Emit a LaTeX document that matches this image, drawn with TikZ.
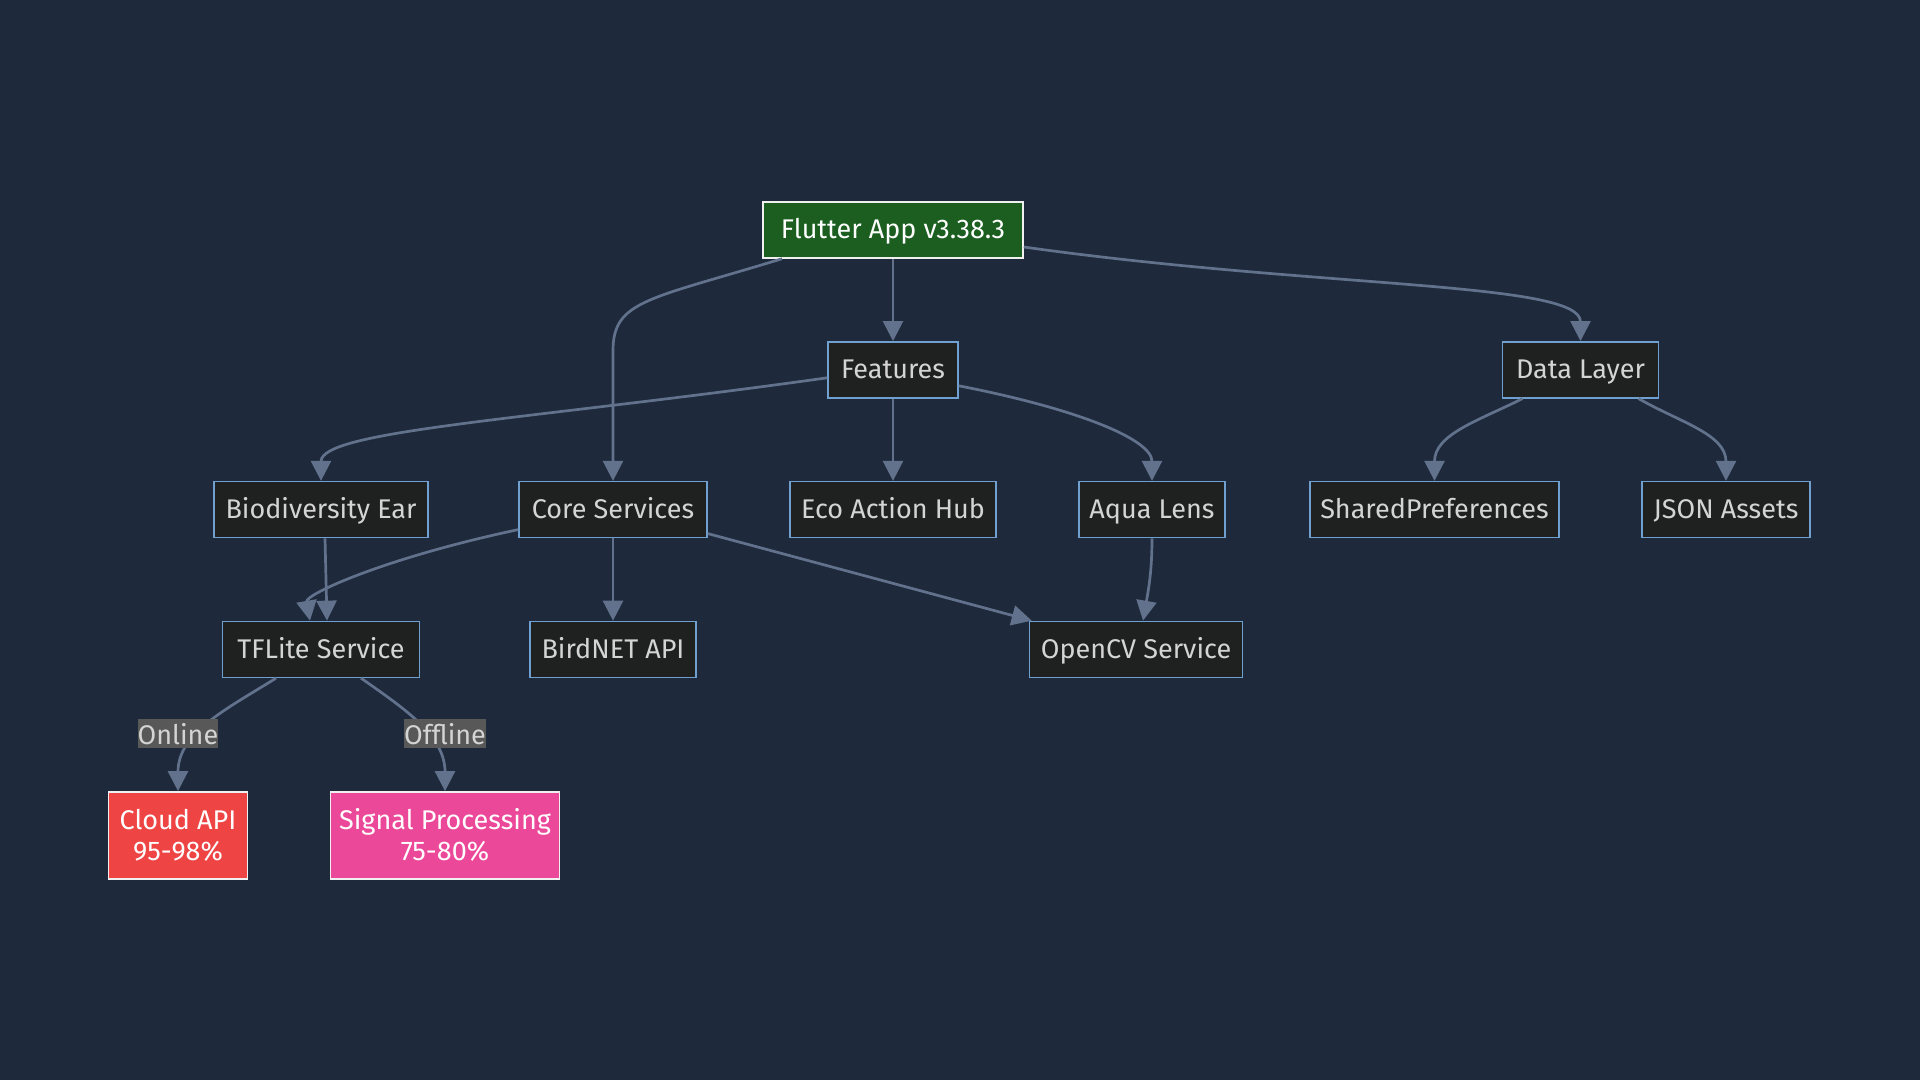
\documentclass[tikz,border=0pt]{standalone}
\usepackage{fontspec}
\setmainfont{Fira Sans}
\usetikzlibrary{arrows.meta,positioning}
\definecolor{bgclr}{RGB}{30,41,59}
\definecolor{nodefill}{RGB}{31,32,32}
\definecolor{nodeline}{RGB}{112,160,208}
\definecolor{nodetext}{RGB}{212,212,212}
\definecolor{edgeclr}{RGB}{98,114,140}
\definecolor{lblfill}{RGB}{88,88,88}
\definecolor{appgreen}{RGB}{27,94,32}
\definecolor{cloudred}{RGB}{239,68,68}
\definecolor{sigpink}{RGB}{236,72,153}

\begin{document}
\begin{tikzpicture}[x=1pt,y=1pt,node distance=82.3pt and 81.5pt,>={Triangle[length=20pt,width=20pt]},every node/.style={font=\fontsize{27}{31}\selectfont},box/.style={draw=nodeline,fill=nodefill,text=nodetext,line width=1.5pt,minimum height=56pt,inner xsep=0pt,text height=20pt,text depth=2.4pt,align=center},hot/.style={box,draw=white!88!gray,text=white},twoline/.style={minimum height=87pt,text height=51pt,text depth=0pt},edge/.style={->,draw=edgeclr,line width=2.7pt},lbl/.style={fill=lblfill,text=nodetext,inner xsep=0pt,inner ysep=1pt,minimum height=29pt}]
\useasboundingbox[fill=bgclr] (0,0) rectangle (1920,1080);
\node[hot,fill=appgreen,minimum width=260pt] (app) at (893,850) {Flutter App v3.38.3};
\node[box,minimum width=130pt,below=of app] (feat) {Features};
\node[box,minimum width=206pt,below=of feat] (eco) {Eco Action Hub};
\node[box,minimum width=188pt,left=of eco] (core) {Core Services};
\node[box,minimum width=214pt,left=89.5pt of core] (bio) {Biodiversity Ear};
\node[box,minimum width=146pt,right=of eco] (aqua) {Aqua Lens};
\node[box,minimum width=249pt,right=83.5pt of aqua] (prefs) {SharedPreferences};
\node[box,minimum width=168pt,right=of prefs] (json) {JSON Assets};
\node[box,minimum width=156pt,above=of prefs,xshift=146pt] (data) {Data Layer};
\node[box,minimum width=197pt,below=of bio] (tfl) {TFLite Service};
\node[box,minimum width=166pt,below=of core] (bird) {BirdNET API};
\node[box,minimum width=213pt,below=of aqua,xshift=-16pt] (cv) {OpenCV Service};
\node[hot,twoline,fill=cloudred,minimum width=139pt,below=113pt of tfl,xshift=-143pt] (cloud) {Cloud API\\95-98\%};
\node[hot,twoline,fill=sigpink,minimum width=229pt,below=113pt of tfl,xshift=124pt] (sig) {Signal Processing\\75-80\%};
\draw[edge] (app) -- (feat);
\draw[edge] ([xshift=-111pt]app.south) to[out=197,in=90,out looseness=1.86,in looseness=0.67] ([yshift=130pt]core.north) -- (core.north);
\draw[edge] ([yshift=-17pt]app.east) to[out=-8,in=90,out looseness=1.35,in looseness=0.27] (data.north);
\draw[edge] ([yshift=-8pt]feat.west) to[out=188,in=90,out looseness=1.5,in looseness=0.25] (bio.north);
\draw[edge] (feat) -- (eco);
\draw[edge] ([yshift=-16pt]feat.east) to[out=-11,in=90,out looseness=1.4,in looseness=0.5] (aqua.north);
\draw[edge] ([xshift=-58pt]data.south) to[out=207,in=90] (prefs.north);
\draw[edge] ([xshift=58pt]data.south) to[out=-30,in=90] (json.north);
\draw[edge] ([xshift=4pt]bio.south) -- ([xshift=6pt]tfl.north);
\draw[edge] ([yshift=-20pt]core.west) to[out=192,in=100,out looseness=1.55,in looseness=0.3] ([xshift=-11pt]tfl.north);
\draw[edge] (core) -- (bird);
\draw[edge] ([yshift=-24pt]core.east) -- ([xshift=3pt]cv.north west);
\draw[edge] (aqua.south) to[out=-90,in=80] ([xshift=7pt]cv.north);
\draw[edge] ([xshift=-45pt]tfl.south) to[out=212,in=90] (cloud.north);
\draw[edge] ([xshift=40pt]tfl.south) to[out=-35,in=90] (sig.north);
\node[lbl,below=41pt of tfl,xshift=-143pt] (onl) {Online};
\node[lbl,below=41pt of tfl,xshift=124pt] (offl) {Offline};
\end{tikzpicture}
\end{document}
